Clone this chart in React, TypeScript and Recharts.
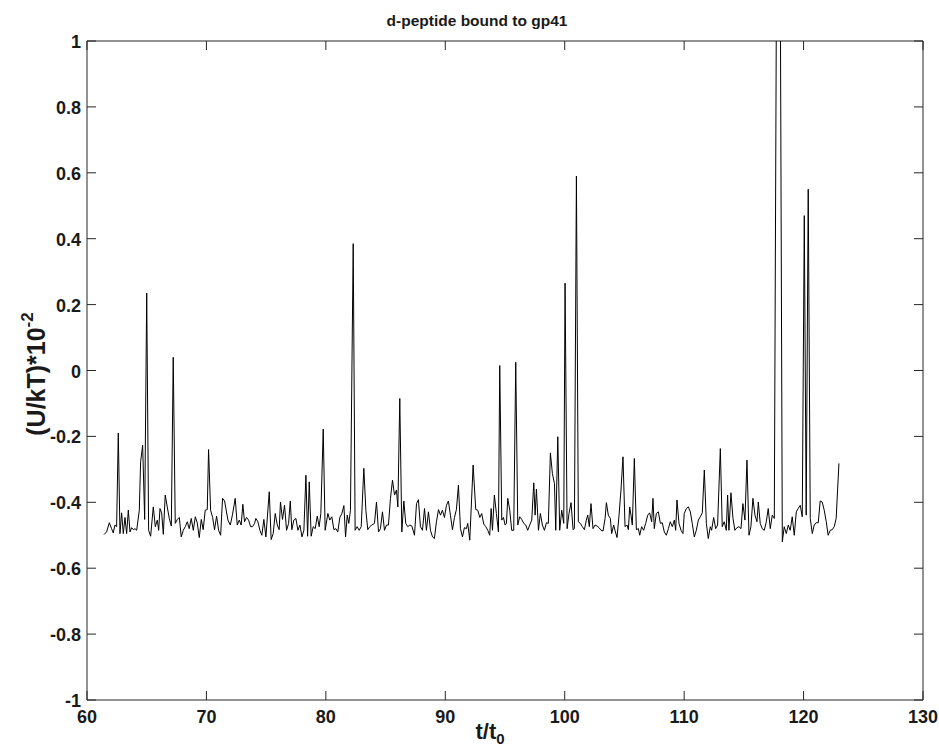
import React from 'react';
import { LineChart, Line, XAxis, YAxis, ReferenceLine } from 'recharts';

// ---- data (t/t0, (U/kT)*10^-2) ----
const seg60s: [number, number][] = [
  [61.42,-0.498],[61.64,-0.49],[61.87,-0.462],[62.06,-0.48],[62.2,-0.493],[62.34,-0.469],[62.48,-0.474],[62.62,-0.19],
  [62.76,-0.495],[62.9,-0.432],[63.04,-0.495],[63.18,-0.446],[63.32,-0.495],[63.46,-0.424],[63.6,-0.49],[63.74,-0.477],
  [63.88,-0.483],[64.02,-0.48],[64.16,-0.485],[64.38,-0.424],[64.49,-0.277],[64.66,-0.227],[64.83,-0.452],[65.0,0.235],
  [65.16,-0.485],[65.33,-0.503],[65.55,-0.414],[65.72,-0.474],[65.89,-0.454],[66.0,-0.485],[66.11,-0.419],[66.25,-0.432],
  [66.39,-0.497],[66.55,-0.378],[66.72,-0.414],[66.89,-0.449],[67.06,-0.472],[67.22,0.04],[67.39,-0.464],[67.56,-0.452],
  [67.73,-0.446],[67.89,-0.505],[68.06,-0.485],[68.23,-0.474],[68.4,-0.459],[68.56,-0.48],[68.73,-0.449],[68.9,-0.485],
  [69.07,-0.444],[69.23,-0.462],[69.4,-0.507],[69.57,-0.452],[69.73,-0.483],[69.9,-0.424],[70.07,-0.422],[70.18,-0.24],
  [70.35,-0.424],[70.52,-0.446],[70.68,-0.483],[70.85,-0.442],[71.02,-0.485],[71.19,-0.5],[71.35,-0.388],[71.52,-0.396],
];

const seg70s: [number, number][] = [
  [71.8,-0.454],[72.0,-0.469],[72.19,-0.436],[72.41,-0.388],[72.58,-0.469],[72.75,-0.454],[72.91,-0.469],[73.05,-0.406],
  [73.19,-0.459],[73.36,-0.446],[73.53,-0.454],[73.7,-0.474],[73.86,-0.474],[74.03,-0.464],[74.14,-0.449],[74.31,-0.459],
  [74.48,-0.485],[74.64,-0.5],[74.81,-0.452],[74.98,-0.505],[75.26,-0.368],[75.42,-0.513],[75.59,-0.495],[75.76,-0.434],
  [75.93,-0.469],[76.09,-0.483],[76.2,-0.399],[76.37,-0.452],[76.54,-0.409],[76.71,-0.485],[76.88,-0.464],[77.02,-0.396],
  [77.15,-0.483],[77.32,-0.454],[77.49,-0.449],[77.66,-0.485],[77.83,-0.469],[78.0,-0.505],[78.16,-0.485],[78.33,-0.318],
  [78.47,-0.503],[78.61,-0.338],[78.77,-0.503],[78.94,-0.474],[79.11,-0.48],[79.28,-0.442],[79.44,-0.474],[79.58,-0.434],
  [79.78,-0.178],[79.94,-0.485],[80.17,-0.434],[80.33,-0.454],[80.5,-0.444],[80.67,-0.483],[80.84,-0.48],[81.0,-0.49],
  [81.17,-0.446],[81.34,-0.434],[81.51,-0.41],[81.65,-0.505],
];

const seg80s: [number, number][] = [
  [81.79,-0.439],[81.92,-0.464],[82.06,-0.424],[82.29,0.385],[82.45,-0.485],[82.62,-0.474],[82.79,-0.485],[82.96,-0.474],
  [83.18,-0.297],[83.35,-0.424],[83.51,-0.483],[83.68,-0.474],[83.85,-0.469],[84.07,-0.464],[84.24,-0.399],[84.41,-0.49],
  [84.57,-0.48],[84.74,-0.429],[84.91,-0.485],[85.08,-0.469],[85.24,-0.469],[85.41,-0.388],[85.58,-0.333],[85.75,-0.378],
  [85.91,-0.363],[86.03,-0.414],[86.19,-0.085],[86.36,-0.49],[86.53,-0.396],[86.69,-0.464],[86.86,-0.474],[87.03,-0.469],
  [87.2,-0.472],[87.42,-0.5],[87.59,-0.404],[87.75,-0.392],[87.92,-0.474],[88.09,-0.485],[88.26,-0.419],[88.42,-0.485],
  [88.59,-0.429],[88.76,-0.485],[88.93,-0.505],[89.09,-0.51],[89.26,-0.459],[89.43,-0.422],[89.6,-0.439],[89.76,-0.424],
  [89.93,-0.446],[90.1,-0.409],[90.26,-0.396],[90.43,-0.439],[90.6,-0.483],[90.77,-0.446],[90.93,-0.422],[91.1,-0.348],
  [91.27,-0.48],[91.44,-0.505],[91.6,-0.477],[91.77,-0.48],
];

const seg90s: [number, number][] = [
  [91.88,-0.464],[92.05,-0.515],[92.33,-0.287],[92.55,-0.422],[92.72,-0.424],[92.89,-0.446],[93.05,-0.434],[93.22,-0.466],
  [93.39,-0.474],[93.56,-0.485],[93.72,-0.5],[93.84,-0.419],[93.95,-0.485],[94.11,-0.378],[94.28,-0.434],[94.45,-0.49],
  [94.56,0.015],[94.73,-0.454],[94.87,-0.446],[95.01,-0.469],[95.12,-0.464],[95.23,-0.388],[95.4,-0.424],[95.56,-0.485],
  [95.73,-0.485],[95.9,0.025],[96.07,-0.469],[96.23,-0.444],[96.4,-0.452],[96.57,-0.464],[96.74,-0.469],[96.9,-0.485],
  [97.07,-0.469],[97.24,-0.454],[97.41,-0.341],[97.52,-0.439],[97.63,-0.36],[97.8,-0.485],[97.96,-0.434],[98.13,-0.469],
  [98.3,-0.485],[98.47,-0.462],[98.63,-0.464],[98.8,-0.25],[98.97,-0.313],[99.14,-0.343],[99.25,-0.485],[99.42,-0.201],
  [99.58,-0.485],[99.75,-0.424],[99.92,-0.464],[100.03,0.265],[100.2,-0.48],[100.36,-0.434],[100.53,-0.401],[100.7,-0.483],
  [100.81,-0.48],[100.98,0.59],[101.14,-0.459],[101.31,-0.464],[101.48,-0.474],[101.65,-0.483],[101.81,-0.454],
];

const seg100s: [number, number][] = [
  [101.93,-0.439],[102.06,-0.474],[102.2,-0.404],[102.37,-0.48],[102.54,-0.469],[102.71,-0.472],[102.87,-0.477],[103.04,-0.485],
  [103.21,-0.487],[103.38,-0.449],[103.49,-0.401],[103.65,-0.439],[103.82,-0.449],[103.93,-0.495],[104.1,-0.469],[104.21,-0.485],
  [104.38,-0.507],[104.55,-0.439],[104.71,-0.363],[104.88,-0.262],[105.05,-0.474],[105.22,-0.469],[105.33,-0.483],[105.44,-0.414],
  [105.55,-0.439],[105.66,-0.469],[105.83,-0.267],[106.0,-0.483],[106.17,-0.48],[106.28,-0.5],[106.44,-0.474],[106.61,-0.485],
  [106.78,-0.464],[106.95,-0.439],[107.11,-0.432],[107.28,-0.459],[107.39,-0.388],[107.5,-0.48],[107.67,-0.434],[107.84,-0.429],
  [108.01,-0.464],[108.17,-0.462],[108.34,-0.49],[108.51,-0.5],[108.68,-0.48],[108.84,-0.459],[109.01,-0.474],[109.18,-0.454],
  [109.29,-0.485],[109.4,-0.393],[109.57,-0.464],[109.74,-0.485],[109.9,-0.495],[110.01,-0.434],[110.18,-0.419],[110.35,-0.414],
  [110.52,-0.429],[110.68,-0.464],[110.85,-0.505],[111.02,-0.485],[111.19,-0.454],[111.35,-0.444],[111.52,-0.432],[111.69,-0.302],
  [111.86,-0.464],[112.02,-0.51],[112.19,-0.474],
];

const seg110s: [number, number][] = [
  [112.3,-0.485],[112.47,-0.446],[112.64,-0.48],[112.8,-0.469],[113.03,-0.237],[113.19,-0.474],[113.36,-0.459],[113.53,-0.485],
  [113.64,-0.378],[113.75,-0.485],[113.92,-0.371],[114.09,-0.449],[114.25,-0.485],[114.42,-0.477],[114.59,-0.474],[114.76,-0.48],
  [114.92,-0.404],[115.09,-0.454],[115.26,-0.272],[115.43,-0.5],[115.59,-0.474],[115.76,-0.388],[115.93,-0.439],[116.1,-0.459],
  [116.21,-0.399],[116.37,-0.464],[116.54,-0.48],[116.71,-0.485],[116.88,-0.459],[117.04,-0.419],[117.21,-0.48],[117.38,-0.439],
  [117.55,-0.449],[117.9,2.7],[118.22,-0.52],[118.38,-0.474],[118.55,-0.495],[118.72,-0.469],[118.88,-0.485],[119.05,-0.444],
  [119.22,-0.5],[119.39,-0.429],[119.55,-0.419],[119.72,-0.409],[119.89,-0.444],[120.06,0.47],[120.22,-0.439],[120.39,0.55],
  [120.56,-0.449],[120.73,-0.495],[120.89,-0.469],[121.06,-0.462],[121.23,-0.462],[121.39,-0.396],[121.56,-0.399],[121.73,-0.424],
  [121.9,-0.459],[122.06,-0.5],[122.23,-0.485],[122.4,-0.483],[122.57,-0.474],[122.73,-0.449],[122.96,-0.282],
];

const xTicks = [60, 70, 80, 90, 100, 110, 120, 130];
const yTicks = [-1, -0.8, -0.6, -0.4, -0.2, 0, 0.2, 0.4, 0.6, 0.8, 1];
const X_DOMAIN: [number, number] = [60, 130];
const Y_DOMAIN: [number, number] = [-1, 1];

const chartTitle = 'd-peptide bound to gp41';

const data = [...seg60s, ...seg70s, ...seg80s, ...seg90s, ...seg100s, ...seg110s].map(([t, u]) => ({ t, u }));

const FONT = "'Liberation Sans', Arial, Helvetica, sans-serif";
const TICK_LEN = 9;
const AXIS_COLOR = '#262626';
const TEXT_COLOR = '#1a1a1a';
const TICK_FONT = 18;

// plot-area geometry
const CHART_W = 939;
const CHART_H = 749;
const MARGIN = { top: 41, right: 16, bottom: 19, left: 27 };
const X_AXIS_H = 30;
const Y_AXIS_W = 60;
const PLOT_RIGHT = CHART_W - MARGIN.right;
const PLOT_H = CHART_H - MARGIN.top - MARGIN.bottom - X_AXIS_H;
// length of an inward tick expressed in y units (for the mirrored top ticks)
const TOP_TICK_UNITS = (TICK_LEN / PLOT_H) * (Y_DOMAIN[1] - Y_DOMAIN[0]);

const fmt = (v: number) => String(Number(v.toFixed(1)));

function BottomTick(props: any) {
  const { x, y, payload } = props;
  return (
    <g>
      <line x1={x} y1={y} x2={x} y2={y - TICK_LEN} stroke={AXIS_COLOR} strokeWidth={1} />
      <text x={x} y={y + 23} textAnchor="middle" fontFamily={FONT} fontWeight="bold" fontSize={TICK_FONT} fill={TEXT_COLOR}>
        {fmt(payload.value)}
      </text>
    </g>
  );
}

function LeftTick(props: any) {
  const { x, y, payload } = props;
  return (
    <g>
      <line x1={x} y1={y} x2={x + TICK_LEN} y2={y} stroke={AXIS_COLOR} strokeWidth={1} />
      <line x1={PLOT_RIGHT} y1={y} x2={PLOT_RIGHT - TICK_LEN} y2={y} stroke={AXIS_COLOR} strokeWidth={1} />
      <text x={x - 6} y={y + 7} textAnchor="end" fontFamily={FONT} fontWeight="bold" fontSize={TICK_FONT} fill={TEXT_COLOR}>
        {fmt(payload.value)}
      </text>
    </g>
  );
}

export default function App() {
  return (
    <div style={{ position: 'absolute', left: 0, top: 0, width: CHART_W, height: CHART_H, background: '#fff', overflow: 'hidden' }}>
      <LineChart width={CHART_W} height={CHART_H} data={data} margin={MARGIN}>
        <XAxis
          dataKey="t"
          type="number"
          domain={X_DOMAIN}
          ticks={xTicks}
          allowDataOverflow
          height={X_AXIS_H}
          tickSize={0}
          tickMargin={0}
          tickLine={false}
          axisLine={{ stroke: AXIS_COLOR, strokeWidth: 1 }}
          tick={<BottomTick />}
          interval={0}
        />
        <YAxis
          type="number"
          domain={Y_DOMAIN}
          ticks={yTicks}
          allowDataOverflow
          width={Y_AXIS_W}
          tickSize={0}
          tickMargin={0}
          tickLine={false}
          axisLine={{ stroke: AXIS_COLOR, strokeWidth: 1 }}
          tick={<LeftTick />}
          interval={0}
        />
        {/* box: top and right edges */}
        <ReferenceLine y={Y_DOMAIN[1]} stroke={AXIS_COLOR} strokeWidth={1} />
        <ReferenceLine x={X_DOMAIN[1]} stroke={AXIS_COLOR} strokeWidth={1} />
        {/* mirrored inward ticks along the top edge */}
        {xTicks.map((t) => (
          <ReferenceLine
            key={`tt-${t}`}
            segment={[
              { x: t, y: Y_DOMAIN[1] },
              { x: t, y: Y_DOMAIN[1] - TOP_TICK_UNITS },
            ]}
            stroke={AXIS_COLOR}
            strokeWidth={1}
          />
        ))}
        <Line
          type="linear"
          dataKey="u"
          stroke="#000"
          strokeWidth={1}
          dot={false}
          activeDot={false}
          isAnimationActive={false}
        />
      </LineChart>
      <svg width={CHART_W} height={CHART_H} style={{ position: 'absolute', left: 0, top: 0, pointerEvents: 'none' }}>
        <text x={477} y={26} textAnchor="middle" fontFamily={FONT} fontWeight="bold" fontSize={15.5} fill={TEXT_COLOR}>
          {chartTitle}
        </text>
        <text
          x={36}
          y={374}
          transform="rotate(-90 36 374)"
          textAnchor="middle"
          dominantBaseline="central"
          fontFamily={FONT}
          fontWeight="bold"
          fontSize={25}
          fill={TEXT_COLOR}
        >
          (U/kT)*10<tspan dy={-9} fontSize={17}>-2</tspan>
        </text>
        <text x={490} y={739} textAnchor="middle" fontFamily={FONT} fontWeight="bold" fontSize={22} fill={TEXT_COLOR}>
          t/t<tspan dy={5} fontSize={15}>0</tspan>
        </text>
      </svg>
    </div>
  );
}
